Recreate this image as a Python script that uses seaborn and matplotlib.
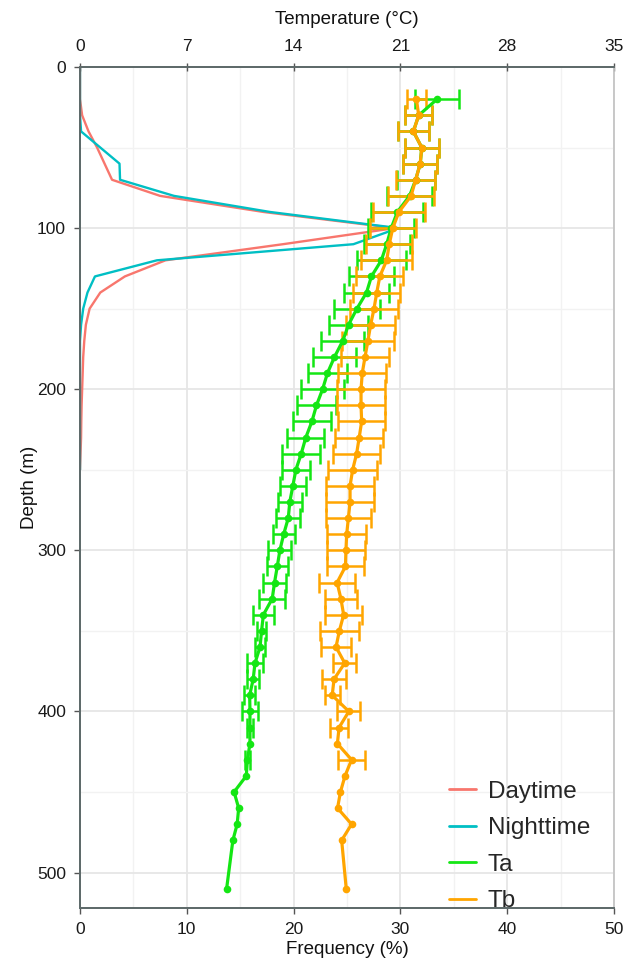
import numpy as np
import pandas as pd
import matplotlib
matplotlib.use("Agg")
import matplotlib.pyplot as plt
import seaborn as sns
from matplotlib.ticker import MultipleLocator
from matplotlib.lines import Line2D

# ---------------- data ----------------
freq_depth = [0, 10, 20, 30, 40, 50, 60, 70, 80, 90, 100, 110, 120, 130, 140,
              150, 160, 170, 180, 190, 200, 210, 220, 230, 240, 250]
daytime = [0, 0, 0, 0.2, 0.8, 1.6, 2.3, 3.0, 7.5, 17.2, 29.5, 19.0, 8.0, 4.2,
           1.9, 0.9, 0.55, 0.4, 0.3, 0.25, 0.2, 0.15, 0.12, 0.1, 0.05, 0]
nighttime = [0, 0, 0, 0, 0.1, 1.9, 3.7, 3.75, 8.8, 17.8, 29.8, 25.6, 7.2, 1.4,
             0.7, 0.3, 0.1, 0, 0, 0, 0, 0, 0, 0, 0, 0]

temp_depth = [20, 30, 40, 50, 60, 70, 80, 90, 100, 110, 120, 130, 140, 150,
              160, 170, 180, 190, 200, 210, 220, 230, 240, 250, 260, 270, 280,
              290, 300, 310, 320, 330, 340, 350, 360, 370, 380, 390, 400, 410,
              420, 430, 440, 450, 460, 470, 480, 510]
ta = [23.4, 22.2, 21.85, 22.4, 22.3, 22.0, 21.6, 20.8, 20.4, 20.1, 19.75, 19.1,
      18.78, 18.15, 17.6, 17.22, 16.68, 16.22, 15.9, 15.5, 15.2, 14.8, 14.5,
      14.15, 13.95, 13.75, 13.65, 13.35, 13.1, 12.93, 12.75, 12.6, 12.02, 11.9,
      11.8, 11.47, 11.35, 11.12, 11.14, 11.14, 11.14, 10.97, 10.9, 10.1, 10.4,
      10.3, 10.02, 9.61]
ta_err = [1.45, 0.9, 1.0, 1.1, 1.1, 1.25, 1.5, 1.7, 1.5, 1.5, 1.6, 1.45, 1.5,
          1.5, 1.3, 1.4, 1.4, 1.3, 1.4, 1.3, 1.25, 1.2, 1.25, 0.9, 0.87, 0.8,
          0.78, 0.72, 0.76, 0.68, 0.75, 0.85, 0.68, 0.3, 0.33, 0.55, 0.4, 0.35,
          0.55, 0.17, 0, 0.17, 0, 0, 0, 0, 0, 0]
tb = [22.05, 22.2, 21.85, 22.4, 22.3, 22.0, 21.7, 20.9, 20.5, 20.27, 20.1,
      19.65, 19.45, 19.27, 19.05, 18.87, 18.68, 18.5, 18.42, 18.42, 18.46, 18.3,
      18.13, 17.87, 17.7, 17.7, 17.59, 17.48, 17.43, 17.4, 16.85, 17.1, 17.28,
      17.0, 16.78, 17.35, 16.65, 16.53, 17.62, 16.98, 16.87, 17.8, 17.37,
      17.07, 16.88, 17.8, 17.15, 17.45]
tb_err = [0.6, 0.9, 1.0, 1.1, 1.1, 1.3, 1.5, 1.7, 1.5, 1.5, 1.65, 1.55, 1.55,
          1.6, 1.6, 1.7, 1.6, 1.57, 1.58, 1.58, 1.55, 1.57, 1.53, 1.6, 1.6,
          1.55, 1.46, 1.29, 1.25, 1.22, 1.18, 1.03, 1.22, 1.29, 1.0, 0.74, 0.8,
          0.48, 0.76, 0.57, 0, 0.9, 0, 0, 0, 0, 0, 0]

freq_ticks = [0, 10, 20, 30, 40, 50]
temp_ticks = [0, 7, 14, 21, 28, 35]
depth_ticks = [0, 100, 200, 300, 400, 500]

# ---------------- style ----------------
sns.set_theme(style="white")
plt.rcParams['font.family'] = ['Liberation Sans', 'DejaVu Sans']

C_DAY = "#F8766D"
C_NIGHT = "#00BFC4"
C_TA = "#14E614"
C_TB = "#FFA500"

fig = plt.figure(figsize=(6.25, 9.68), dpi=100)
ax = fig.add_axes([0.128, 0.062, 0.8544, 0.8688])
ax2 = ax.twiny()

# grid
ax.xaxis.set_major_locator(MultipleLocator(10))
ax.xaxis.set_minor_locator(MultipleLocator(5))
ax.yaxis.set_major_locator(MultipleLocator(100))
ax.yaxis.set_minor_locator(MultipleLocator(50))
ax.grid(which='major', color='#E6E6E6', linewidth=1.3)
ax.grid(which='minor', color='#F2F2F2', linewidth=1.0)
ax.set_axisbelow(True)

# frequency profiles
df_f = pd.DataFrame({
    "depth": freq_depth * 2,
    "freq": daytime + nighttime,
    "period": ["Daytime"] * len(freq_depth) + ["Nighttime"] * len(freq_depth),
})
sns.lineplot(data=df_f, x="freq", y="depth", hue="period", orient="y",
             palette={"Daytime": C_DAY, "Nighttime": C_NIGHT},
             linewidth=1.7, legend=False, ax=ax, estimator=None)

# temperature profiles
d = np.array(temp_depth, dtype=float)
for vals, errs, col in [(ta, ta_err, C_TA), (tb, tb_err, C_TB)]:
    v = np.array(vals); e = np.array(errs)
    m = e > 0
    ax2.errorbar(v[m], d[m], xerr=e[m], fmt='none', ecolor=col,
                 elinewidth=1.8, capsize=7, capthick=1.8, zorder=2)
df_t = pd.DataFrame({
    "depth": temp_depth * 2,
    "temp": ta + tb,
    "var": ["Ta"] * len(temp_depth) + ["Tb"] * len(temp_depth),
})
sns.lineplot(data=df_t, x="temp", y="depth", hue="var", orient="y",
             palette={"Ta": C_TA, "Tb": C_TB}, marker='o', markersize=5.5,
             markeredgewidth=0, linewidth=2.3, legend=False, ax=ax2,
             estimator=None, zorder=3)

# axes limits / ticks
ax.set_xlim(0, 50)
ax2.set_xlim(0, 35)
ax.set_ylim(522, 0)
ax.set_xticks(freq_ticks)
ax2.set_xticks(temp_ticks)
ax.set_yticks(depth_ticks)
ax2.grid(False)

ax.tick_params(axis='both', which='major', direction='out', length=4,
               width=1, color='#555555', labelsize=12.5, labelcolor='#1a1a1a',
               bottom=True, left=True, pad=6)
ax.tick_params(which='minor', length=0)
ax2.tick_params(axis='x', which='major', direction='inout', length=6, width=1,
                color='#555555', labelsize=12.5, labelcolor='#1a1a1a', top=True,
                pad=6)
ax2.tick_params(which='minor', length=0)

for a in (ax, ax2):
    for side in ['left', 'bottom', 'top']:
        a.spines[side].set_color('#5f6b6b')
        a.spines[side].set_linewidth(1.4)
    a.spines['right'].set_color('#c8c8c8')
    a.spines['right'].set_linewidth(1.2)

ax.set_xlabel("Frequency (%)", fontsize=13.5, color='#111111', labelpad=3)
ax.set_ylabel("Depth (m)", fontsize=13.5, color='#111111', labelpad=-1)
ax2.set_xlabel("Temperature (\u00b0C)", fontsize=13.5, color='#111111', labelpad=11)
ax2.set_ylabel("")

handles = [Line2D([0], [0], color=C_DAY, lw=2),
           Line2D([0], [0], color=C_NIGHT, lw=2),
           Line2D([0], [0], color=C_TA, lw=2),
           Line2D([0], [0], color=C_TB, lw=2)]
ax2.legend(handles, ["Daytime", "Nighttime", "Ta", "Tb"], loc='upper left',
           bbox_to_anchor=(0.673, 0.163), frameon=False, fontsize=17.5,
           handlelength=1.1, handletextpad=0.5, labelspacing=0.6,
           borderaxespad=0)

fig.savefig("out.png", dpi=100)
